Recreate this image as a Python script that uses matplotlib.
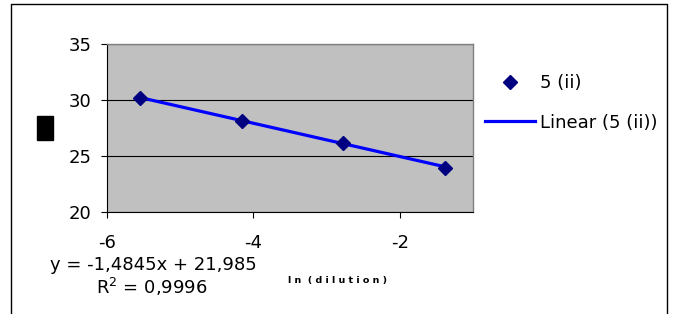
import numpy as np
import matplotlib
matplotlib.use("Agg")
import matplotlib.pyplot as plt
from matplotlib.patches import Rectangle
from matplotlib.lines import Line2D

# ---- data ----
ln_dilution = [-5.545, -4.159, -2.773, -1.386]
ct_values = [30.15, 28.15, 26.15, 23.9]
series_name = "5 (ii)"
trend_name = "Linear (5 (ii))"
slope = -1.4845
intercept = 21.985
r_squared = "0,9996"
x_ticks = [-6, -4, -2]
y_ticks = [20, 25, 30, 35]

plt.rcParams['font.family'] = ['DejaVu Sans']
FS = 13

W, H = 677, 314
fig = plt.figure(figsize=(W / 100, H / 100), dpi=100)
fig.patch.set_facecolor('white')

ax = fig.add_axes([107 / W, 1 - 212 / H, (473 - 107) / W, (212 - 44) / H])
ax.set_facecolor('#C0C0C0')
ax.set_xlim(-6, -1)
ax.set_ylim(20, 35)
ax.set_xticks(x_ticks)
ax.set_yticks(y_ticks)
ax.set_xticklabels([str(t) for t in x_ticks])
ax.set_yticklabels([str(t) for t in y_ticks])
ax.tick_params(axis='both', direction='out', length=4.3, width=0.8, labelsize=FS, colors='black')
ax.tick_params(axis='x', pad=11.5)
ax.tick_params(axis='y', pad=7)
ax.yaxis.grid(True, color='black', linewidth=0.8)
ax.set_axisbelow(True)
for s in ['top', 'right']:
    ax.spines[s].set_color('#808080')
    ax.spines[s].set_linewidth(1.0)
for s in ['left', 'bottom']:
    ax.spines[s].set_color('black')
    ax.spines[s].set_linewidth(0.8)

# trendline
xs = np.array([ln_dilution[0], ln_dilution[-1]])
ax.plot(xs, slope * xs + intercept, color='#0000FF', linewidth=2.3, label=trend_name, zorder=3)
# points
ax.plot(ln_dilution, ct_values, linestyle='none', marker='D', markersize=7.5,
        color='#000080', label=series_name, zorder=4, clip_on=False)

handles, labels = ax.get_legend_handles_labels()
order = [1, 0]
leg = ax.legend([handles[i] for i in order], [labels[i] for i in order],
                loc='upper left', bbox_to_anchor=(485 / W, 1 - 74 / H),
                bbox_transform=fig.transFigure, frameon=False, fontsize=FS,
                borderpad=0, borderaxespad=0, handlelength=2.75,
                handletextpad=0.3, labelspacing=1.2)

# axis title (x)
fig.text(338 / W, 1 - 280 / H, "l n  ( d i l u t i o n )", fontsize=6.8,
         fontweight='bold', ha='center', va='center')

# trendline equation
fig.text(153 / W, 1 - 265 / H, "y = -1,4845x + 21,985", fontsize=FS,
         ha='center', va='center')
fig.text(152 / W, 1 - 287 / H, "R$^2$ = " + r_squared, fontsize=FS,
         ha='center', va='center')

# black block (y-axis title)
fig.patches.append(Rectangle((37 / W, 1 - 140 / H), 16 / W, 24 / H,
                             transform=fig.transFigure, color='black'))

# outer chart border
fig.lines.append(Line2D([11 / W, 11 / W, 667 / W, 667 / W],
                        [0, 1 - 4 / H, 1 - 4 / H, 0],
                        transform=fig.transFigure, color='black', linewidth=1.0))

fig.savefig("out.png", dpi=100)
